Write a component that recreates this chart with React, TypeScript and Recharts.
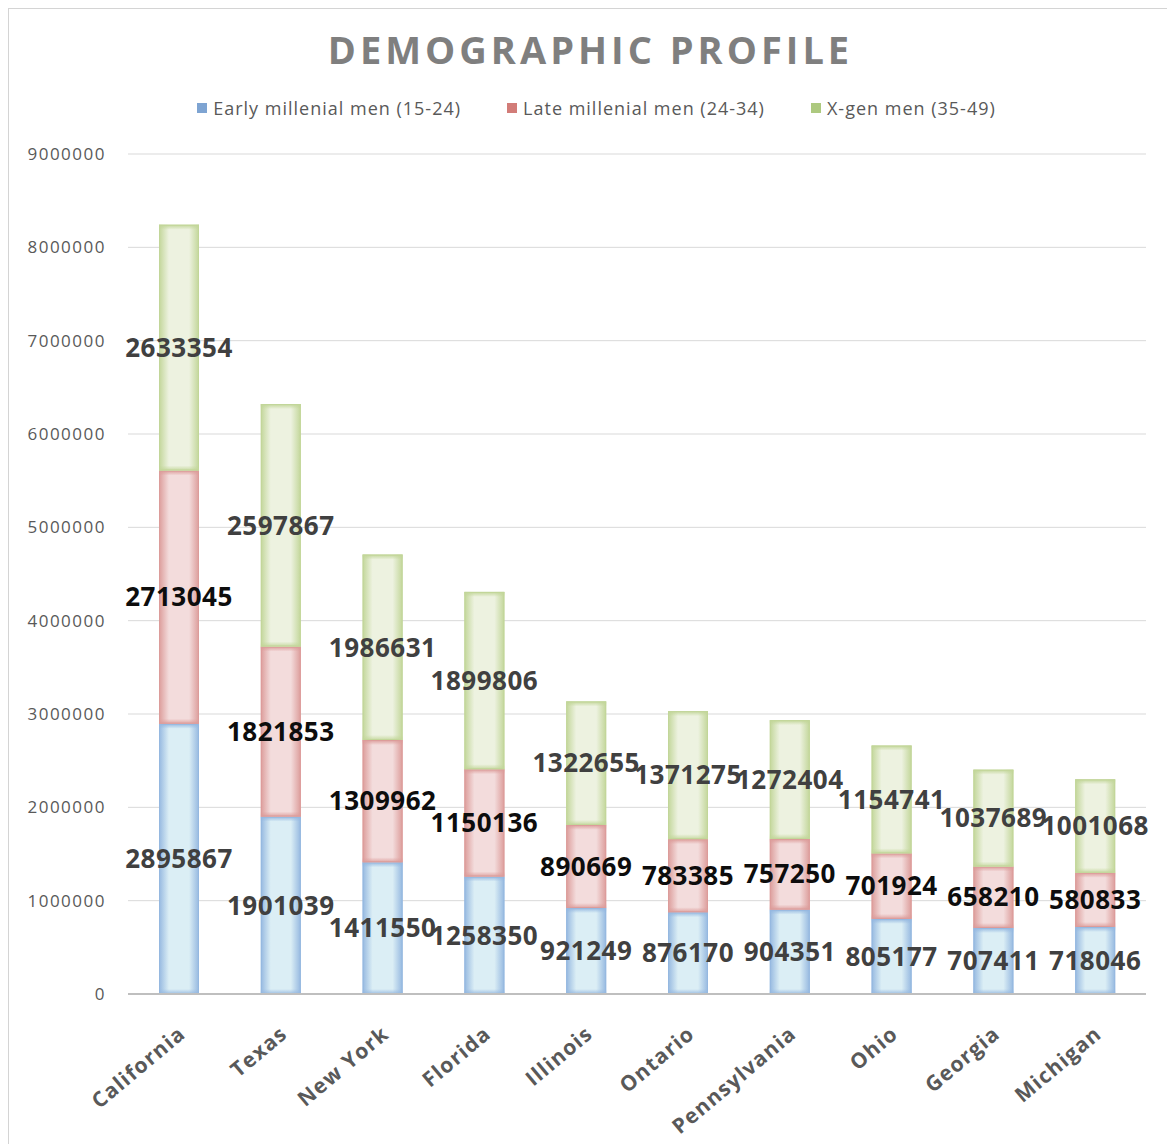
import React from "react";
import { BarChart, Bar, XAxis, YAxis, CartesianGrid, Legend, LabelList } from "recharts";

const states = ["California", "Texas", "New York", "Florida", "Illinois", "Ontario", "Pennsylvania", "Ohio", "Georgia", "Michigan"];
const earlyMillenial = [2895867, 1901039, 1411550, 1258350, 921249, 876170, 904351, 805177, 707411, 718046];
const lateMillenial = [2713045, 1821853, 1309962, 1150136, 890669, 783385, 757250, 701924, 658210, 580833];
const xGen = [2633354, 2597867, 1986631, 1899806, 1322655, 1371275, 1272404, 1154741, 1037689, 1001068];
const yTicks = [0, 1000000, 2000000, 3000000, 4000000, 5000000, 6000000, 7000000, 8000000, 9000000];

const series = [
  { key: "early", name: "Early millenial men (15-24)", edge: "#95b8e0", mid: "#dbeef5", swatch: "#7ea4d2", label: "#404040" },
  { key: "late", name: "Late millenial men (24-34)", edge: "#dc9c9a", mid: "#f3dcdc", swatch: "#d27c78", label: "#0d0d0d" },
  { key: "xgen", name: "X-gen men (35-49)", edge: "#c2d699", mid: "#edf2e0", swatch: "#adc97f", label: "#404040" },
];

const data = states.map((s, i) => ({
  state: s,
  early: earlyMillenial[i],
  late: lateMillenial[i],
  xgen: xGen[i],
}));

const FONT = "'Open Sans', sans-serif";

function makeShape(key: string, edge: string) {
  return (props: any) => {
    const { x, y, width, height } = props;
    if (!height || height <= 0) return null;
    const band = Math.min(5, height / 2);
    return (
      <g>
        <rect x={x} y={y} width={width} height={height} fill={`url(#h-${key})`} />
        <rect x={x} y={y} width={width} height={band} fill={`url(#vt-${key})`} />
        <rect x={x} y={y + height - band} width={width} height={band} fill={`url(#vb-${key})`} />
        <rect x={x + 0.5} y={y + 0.5} width={width - 1} height={height - 1} fill="none" stroke={edge} strokeWidth={1} />
      </g>
    );
  };
}

function XTick(props: any) {
  const { x, y, payload } = props;
  return (
    <g transform={`translate(${x + 8},${y + 42})`}>
      <text
        textAnchor="end"
        transform="rotate(-40)"
        fontFamily={FONT}
        fontWeight={700}
        fontSize={21}
        letterSpacing={1.2}
        fill="#595959"
      >
        {payload.value}
      </text>
    </g>
  );
}

function LegendBox() {
  return (
    <div style={{ display: "flex", justifyContent: "center", gap: 46, fontFamily: FONT, fontSize: 18, letterSpacing: 1, color: "#595959", paddingLeft: 12 }}>
      {series.map((s) => (
        <div key={s.key} style={{ display: "flex", alignItems: "center" }}>
          <span style={{ width: 10, height: 10, background: s.swatch, marginRight: 6, display: "inline-block" }} />
          <span>{s.name}</span>
        </div>
      ))}
    </div>
  );
}

export default function App() {
  return (
    <div style={{ position: "relative", width: 1163, height: 1136, border: "1px solid #d4d4d4", borderBottom: "none", background: "#fff" }}>
      <div
        style={{
          position: "absolute",
          top: 14,
          left: 0,
          width: 1163,
          textAlign: "center",
          fontFamily: FONT,
          fontWeight: 700,
          fontSize: 38,
          letterSpacing: 4,
          color: "#7f7f7f",
        }}
      >
        DEMOGRAPHIC PROFILE
      </div>
      <BarChart width={1163} height={1135} data={data} margin={{ top: 145, right: 26, bottom: 0, left: 0 }} barSize={40}>
        <defs>
          {series.map((s) => (
            <React.Fragment key={s.key}>
              <linearGradient id={`h-${s.key}`} x1="0" y1="0" x2="1" y2="0">
                <stop offset="0%" stopColor={s.edge} />
                <stop offset="25%" stopColor={s.mid} />
                <stop offset="75%" stopColor={s.mid} />
                <stop offset="100%" stopColor={s.edge} />
              </linearGradient>
              <linearGradient id={`vt-${s.key}`} x1="0" y1="0" x2="0" y2="1">
                <stop offset="0%" stopColor={s.edge} stopOpacity={1} />
                <stop offset="100%" stopColor={s.edge} stopOpacity={0} />
              </linearGradient>
              <linearGradient id={`vb-${s.key}`} x1="0" y1="0" x2="0" y2="1">
                <stop offset="0%" stopColor={s.edge} stopOpacity={0} />
                <stop offset="100%" stopColor={s.edge} stopOpacity={0.9} />
              </linearGradient>
            </React.Fragment>
          ))}
        </defs>
        <CartesianGrid vertical={false} stroke="#d9d9d9" strokeWidth={1} />
        <XAxis
          dataKey="state"
          interval={0}
          height={150}
          tickLine={false}
          tickSize={0}
          tickMargin={0}
          axisLine={{ stroke: "#bfbfbf", strokeWidth: 2 }}
          tick={<XTick />}
        />
        <YAxis
          width={119}
          domain={[0, 9000000]}
          ticks={yTicks}
          interval={0}
          axisLine={false}
          tickLine={false}
          tickSize={0}
          tickMargin={22}
          tick={{ fontFamily: FONT, fontSize: 17, fill: "#595959", letterSpacing: 1.5 }}
        />
        <Legend
          layout="horizontal"
          verticalAlign="middle"
          align="center"
          content={<LegendBox />}
          wrapperStyle={{ top: 87, left: 0, width: 1163 }}
        />
        {series.map((s) => (
          <Bar
            key={s.key}
            dataKey={s.key}
            name={s.name}
            stackId="a"
            fill={s.swatch}
            shape={makeShape(s.key, s.edge)}
            isAnimationActive={false}
          >
            <LabelList
              dataKey={s.key}
              position="center"
              fontFamily={FONT}
              fontWeight={700}
              fontSize={26}
              fill={s.label}
              style={{ letterSpacing: 0.5 }}
            />
          </Bar>
        ))}
      </BarChart>
    </div>
  );
}
